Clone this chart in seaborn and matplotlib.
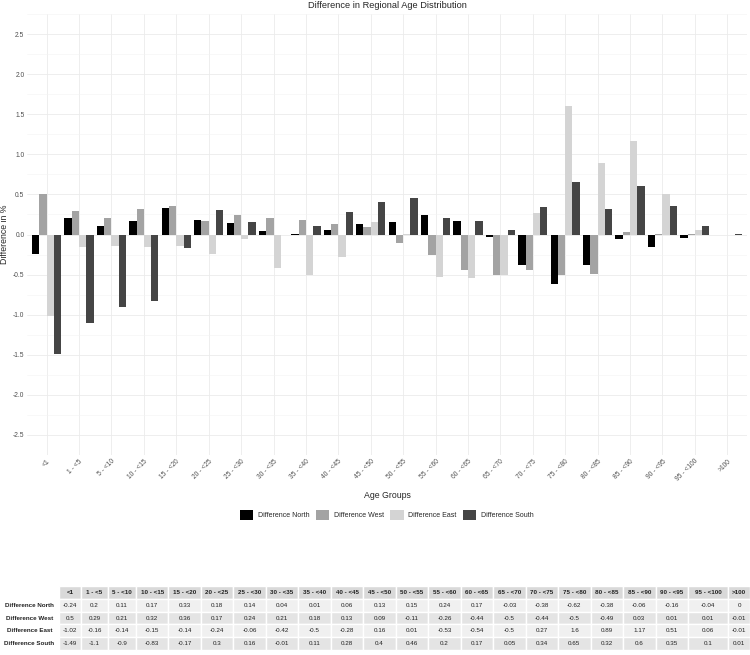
import numpy as np
import pandas as pd
import seaborn as sns
import matplotlib.pyplot as plt

age_groups = ["<1", "1 - <5", "5 - <10", "10 - <15", "15 - <20", "20 - <25", "25 - <30",
              "30 - <35", "35 - <40", "40 - <45", "45 - <50", "50 - <55", "55 - <60",
              "60 - <65", "65 - <70", "70 - <75", "75 - <80", "80 - <85", "85 - <90",
              "90 - <95", "95 - <100", ">100"]
diff_north = [-0.24, 0.2, 0.11, 0.17, 0.33, 0.18, 0.14, 0.04, 0.01, 0.06, 0.13, 0.15, 0.24,
              0.17, -0.03, -0.38, -0.62, -0.38, -0.06, -0.16, -0.04, 0]
diff_west = [0.5, 0.29, 0.21, 0.32, 0.36, 0.17, 0.24, 0.21, 0.18, 0.13, 0.09, -0.11, -0.26,
             -0.44, -0.5, -0.44, -0.5, -0.49, 0.03, 0.01, 0.01, -0.01]
diff_east = [-1.02, -0.16, -0.14, -0.15, -0.14, -0.24, -0.06, -0.42, -0.5, -0.28, 0.16, 0.01,
             -0.53, -0.54, -0.5, 0.27, 1.6, 0.89, 1.17, 0.51, 0.06, -0.01]
diff_south = [-1.49, -1.1, -0.9, -0.83, -0.17, 0.3, 0.16, -0.01, 0.11, 0.28, 0.4, 0.46, 0.2,
              0.17, 0.05, 0.34, 0.65, 0.32, 0.6, 0.35, 0.1, 0.01]
series = ["Difference North", "Difference West", "Difference East", "Difference South"]
colors = ["#000000", "#a3a3a3", "#d4d4d4", "#454545"]

wide = pd.DataFrame({"Age Groups": age_groups, series[0]: diff_north, series[1]: diff_west,
                     series[2]: diff_east, series[3]: diff_south})
df = wide.melt(id_vars="Age Groups", var_name="Region", value_name="Difference")

sns.set_theme(style="whitegrid")
plt.rcParams["font.family"] = ["Liberation Sans", "DejaVu Sans"]

W, H = 750, 655
fig = plt.figure(figsize=(W / 100, H / 100), dpi=100)
ax = fig.add_axes([27.2 / W, 1 - 455 / H, (746.7 - 27.2) / W, (455 - 14) / H])

sns.barplot(data=df, x="Age Groups", y="Difference", hue="Region", order=age_groups,
            hue_order=series, palette=colors, width=0.9, linewidth=0, saturation=1,
            legend=True, ax=ax)

ax.set_xlim(-0.6, len(age_groups) - 0.4)
ax.set_ylim(-2.75, 2.75)
ax.set_yticks(np.arange(-2.5, 2.51, 0.5))
ax.set_yticks(np.arange(-2.75, 2.76, 0.5), minor=True)
ax.set_yticklabels([f"{v:.1f}" for v in np.arange(-2.5, 2.51, 0.5)], fontsize=4.8, color="#4d4d4d")
ax.set_xticks(range(len(age_groups)))
ax.set_xticklabels(age_groups, rotation=45, ha="right", rotation_mode="anchor",
                   fontsize=4.8, color="#4d4d4d")
ax.tick_params(axis="both", length=0, pad=2)
ax.grid(which="major", color="#ebebeb", linewidth=0.6)
ax.grid(which="minor", axis="y", color="#f3f3f3", linewidth=0.4)
ax.set_axisbelow(True)
for s in ax.spines.values():
    s.set_visible(False)
ax.set_xlabel("Age Groups", fontsize=6.3, labelpad=6)
ax.set_ylabel("Difference in %", fontsize=6.3, labelpad=3)
ax.set_title("Difference in Regional Age Distribution", fontsize=6.7, pad=4)

handles, labels = ax.get_legend_handles_labels()
ax.get_legend().remove()
fig.legend(handles, labels, loc="center", bbox_to_anchor=(387 / W, 1 - 515 / H), ncol=4,
           frameon=False, fontsize=5, handlelength=1.9, handleheight=1.9,
           handletextpad=0.7, columnspacing=0.9)

# table below
tab_ax = fig.add_axes([0, 1 - 650 / H, 1, (650 - 586) / H])
tab_ax.axis("off")
rows = [diff_north, diff_west, diff_east, diff_south]
cell_text = [[""] + age_groups] + [[series[i]] + [f"{v:g}" for v in rows[i]] for i in range(4)]
col_w = [59, 22, 27, 28] + [32.5] * 17 + [40, 22]
tbl = tab_ax.table(cellText=cell_text, colWidths=col_w, bbox=[0, 0, 1, 1], cellLoc="center")
tbl.auto_set_font_size(False)
tbl.set_fontsize(4.5)
row_bg = ["#f0f0f0", "#e4e4e4", "#f0f0f0", "#e4e4e4"]
for (r, c), cell in tbl.get_celld().items():
    cell.set_edgecolor("white")
    cell.set_linewidth(1)
    cell.get_text().set_color("#222222")
    if c == 0:
        cell.set_facecolor("white")
        cell.get_text().set_fontweight("bold")
        cell._loc = "right"
        cell.PAD = 0.05
    elif r == 0:
        cell.set_facecolor("#d9d9d9")
        cell.get_text().set_fontweight("bold")
    else:
        cell.set_facecolor(row_bg[r - 1])

fig.savefig("out.png", dpi=100)
